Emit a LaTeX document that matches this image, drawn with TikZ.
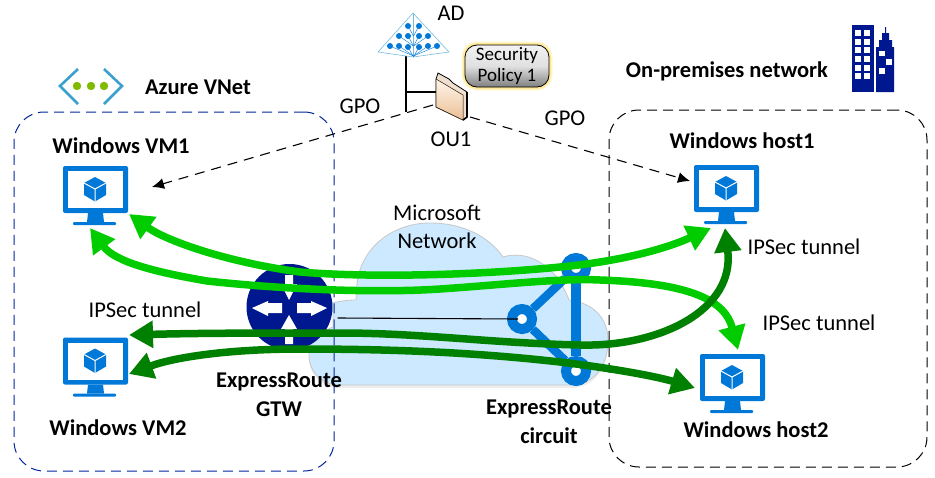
\documentclass[tikz,border=0pt]{standalone}
\usepackage{fontspec}
\setmainfont{Carlito}
\usetikzlibrary{positioning,arrows.meta,calc}
\definecolor{azblue}{RGB}{0,120,215}
\definecolor{navyicon}{RGB}{0,24,143}
\definecolor{cloudblue}{RGB}{204,233,255}
\definecolor{lightgreen}{RGB}{0,204,0}
\definecolor{darkgreen}{RGB}{0,128,0}
\definecolor{vnetblue}{RGB}{59,160,205}
\definecolor{vnetdot}{RGB}{127,186,0}
\tikzset{
    txt/.style={font=\fontsize{22.5}{27.5}\selectfont, align=center, inner sep=0pt},
    txtb/.style={font=\fontsize{22.5}{28.5}\selectfont\bfseries, align=center, inner sep=0pt},
    gpoline/.style={dashed, dash pattern=on 10pt off 7pt, line width=1.1pt, -{Latex[length=12pt,width=11pt]}},
    tunnel/.style={line width=7.5pt, {Triangle[length=24pt,width=26pt]}-{Triangle[length=24pt,width=26pt]}},
    anchorbox/.style={minimum width=65pt, minimum height=59pt, inner sep=0pt},
    hubring/.style={circle, draw=azblue, fill=white, line width=10pt, minimum size=20pt, inner sep=0pt},
    pics/vmicon/.style={code={
        \fill[azblue, rounded corners=2pt] (0,0) rectangle (65,47);
        \fill[white] (5,5) rectangle (60,42);
        \fill[azblue] (25,47) -- (40,47) -- (41,56) -- (24,56) -- cycle;
        \fill[azblue, rounded corners=1pt] (10,56) rectangle (53,59);
        \fill[azblue] (32,11) -- (43,17) -- (43,29) -- (32,35.5) -- (21,29) -- (21,17) -- cycle;
        \draw[white, line width=1pt] (21,17) -- (32,23) -- (43,17) (32,23) -- (32,35.5);
    }}
}
\begin{document}
\begin{tikzpicture}[x=1pt, y=-1pt, >=latex]
    \useasboundingbox (0,0) rectangle (935,477);

    % Cloud
    \def\cloudpath{(340,385) .. controls (322,385) and (309,372) .. (309,355)
        .. controls (309,342) and (318,333) .. (333,327) -- (333,303)
        .. controls (340,301) and (348,300) .. (356,300) -- (357,283)
        .. controls (362,245) and (395,223) .. (430,223)
        .. controls (465,223) and (490,238) .. (503,257)
        .. controls (525,250) and (555,262) .. (569,300)
        .. controls (595,303) and (608,320) .. (608,340)
        .. controls (608,365) and (595,385) .. (570,385) -- cycle}
    \fill[black, opacity=0.07, yshift=-3pt] \cloudpath;
    \filldraw[fill=cloudblue, draw=black!22, line width=0.8pt] \cloudpath;

    % VNet and on-premises boxes
    \node[draw=navyicon!85!azblue, dashed, dash pattern=on 10pt off 6pt, line width=1pt, rounded corners=30pt, minimum width=320pt, minimum height=359pt, inner sep=0pt] (vnetbox) at (174,291.5) {};
    \node[draw=black, dashed, dash pattern=on 10pt off 6pt, line width=1pt, rounded corners=30pt, minimum width=318pt, minimum height=357pt, inner sep=0pt] (onpremboxx) at (768,288.5) {};

    % VNet icon
    \draw[vnetblue, line width=2.6pt] (78,69) -- (60,86) -- (78,104);
    \draw[vnetblue, line width=2.6pt] (104,69) -- (122,86) -- (104,104);
    \fill[vnetdot] (77,86) circle (4.2) (91,86) circle (4.2) (104,86) circle (4.2);

    % Buildings
    \fill[navyicon] (852,25) rectangle (874,92);
    \fill[navyicon] (876,92) -- (876,47) -- (879,47) -- (879,40) -- (882,40) -- (882,33) -- (885,33) -- (885,27) -- (886,27) -- (886,33) -- (889,33) -- (889,40) -- (892,40) -- (892,47) -- (894,47) -- (894,92) -- cycle;
    \foreach \wy in {30,39,47,56,65,73} {
        \fill[white] (855,\wy) rectangle (861,\wy+6);
        \fill[white] (864,\wy) rectangle (870,\wy+6);
    }
    \fill[white] (879,51) rectangle (885,56);
    \fill[white] (886,59) rectangle (892,65);
    \fill[white] (879,68) rectangle (885,74);

    % AD
    \draw[black, line width=1.1pt] (406,53) -- (406,112);
    \draw[black, line width=1.1pt] (406,92) -- (437,92);
    \filldraw[fill=white, draw=vnetblue!70, line width=0.6pt] (413,13) -- (449,52) -- (413,57) -- (378,52) -- cycle;
    \draw[vnetblue!70, line width=0.5pt] (413,13) -- (413,57);
    \foreach \dotx/\doty in {408/26,419/26,399/36,408/36,419/36,428/36,390/46,399/46,408/47,419/47,428/46,437/46} {
        \fill[azblue] (\dotx,\doty) circle (3);
        \draw[azblue, line width=0.4pt] (\dotx,\doty) -- (413.5,\doty+10);
    }

    % Security policy
    \draw[orange!40!yellow, opacity=0.18, line width=7pt, rounded corners=12pt] (465,45) rectangle (549,87);
    \draw[orange!40!yellow, opacity=0.3, line width=4pt, rounded corners=12pt] (465,45) rectangle (549,87);
    \node[draw=black, line width=0.8pt, rounded corners=12pt, minimum width=84pt, minimum height=42pt, top color=white!95!black, bottom color=black!50, middle color=black!12, inner sep=0pt, align=center, font=\fontsize{19}{21.5}\selectfont] (policy) at (507,66) {Security\\Policy 1};

    % Folder
    \coordinate (gpoA) at (433,105);
    \coordinate (gpoB) at (470,117);
    \coordinate (vmaim) at (152,187);
    \coordinate (hostaim) at (690,181);
    \filldraw[fill=brown!25!white, draw=black, line width=0.8pt] (438,73) -- (449,79) -- (453,83) -- (467,92) -- (467,117) -- (463,120) -- (436,107) -- (436,79) -- cycle;
    \filldraw[top color=orange!8!white, bottom color=orange!35!brown!50!white, draw=black!70!brown, line width=0.5pt] (436,79) -- (463,95) -- (463,120) -- (436,107) -- cycle;
    \draw[black, line width=1.6pt] (463,120) -- (467,117) -- (467,92);

    % GPO arrows
    \draw[gpoline] (gpoA) -- (vmaim);
    \draw[gpoline] (gpoB) -- (hostaim);

    % Monitors
    \node[anchorbox] (vm1) at (95.5,195.5) {};
    \pic at (63,166) {vmicon};
    \node[anchorbox] (vm2) at (95.5,367) {};
    \pic at (63,337.5) {vmicon};
    \node[anchorbox] (host1) at (726.5,194.5) {};
    \pic at (694,165) {vmicon};
    \node[anchorbox] (host2) at (732.5,383.5) {};
    \pic at (700,354) {vmicon};

    % ExpressRoute gateway
    \node[circle, fill=navyicon, minimum size=86pt, inner sep=0pt] (gtw) at (289.5,307) {};
    \fill[white] (285,275) -- (293,275) -- (293,284) -- (297,284) -- (289,300) -- (281,284) -- (285,284) -- cycle;
    \fill[white] (289,315) -- (297,329) -- (293,329) -- (293,344) -- (285,344) -- (285,329) -- (281,329) -- cycle;
    \fill[white] (252,308) -- (268,301) -- (268,303) -- (282,303) -- (282,313) -- (268,313) -- (268,316) -- cycle;
    \fill[white] (327,308) -- (311,301) -- (311,303) -- (297,303) -- (297,313) -- (311,313) -- (311,316) -- cycle;

    % ExpressRoute circuit
    \node[hubring] (circtop) at (576,268) {};
    \node[hubring] (circleft) at (522,319) {};
    \node[hubring] (circbot) at (576,371) {};
    \draw[azblue, line width=10pt] (circtop) -- (circbot);
    \draw[azblue, line width=8.5pt] (circleft) -- (circtop);
    \draw[azblue, line width=8.5pt] (circleft) -- (circbot);
    \draw[black, line width=1.1pt] ($(gtw.east)+(5,11)$) -- ($(circleft.center)+(-4,0)$);

    % Tunnels
    \coordinate (vmAend) at (129,214);
    \coordinate (vmBend) at (90,228);
    \coordinate (vmCend) at (129,335);
    \coordinate (vmDend) at (129,374);
    \coordinate (hostAend) at (711,228);
    \coordinate (hostBend) at (738,350);
    \coordinate (hostCend) at (725,228);
    \coordinate (hostDend) at (695,388);
    \draw[tunnel, lightgreen] (vmAend) .. controls (165,240) and (225,262) .. (300,272) .. controls (370,278) and (480,275) .. (560,267) .. controls (625,261) and (670,247) .. (hostAend);
    \draw[tunnel, lightgreen] (vmBend) .. controls (115,262) and (155,272) .. (207,281) .. controls (290,290) and (380,293) .. (440,289) .. controls (500,285) and (560,278) .. (600,280) .. controls (690,283) and (725,300) .. (hostBend);
    \draw[tunnel, darkgreen] (vmCend) .. controls (200,333) and (270,333) .. (340,333) .. controls (420,333) and (490,343) .. (580,345) .. controls (660,347) and (735,310) .. (hostCend);
    \draw[tunnel, darkgreen] (vmDend) .. controls (175,357) and (230,349) .. (300,349) .. controls (400,349) and (480,353) .. (560,362) .. controls (610,368) and (655,376) .. (hostDend);

    % Labels
    \node[txtb] (azlabel) at (198,87) {Azure VNet};
    \node[txtb] (onlabel) at (727,71) {On-premises network};
    \node[txtb] (vm1label) at (121,146) {Windows VM1};
    \node[txtb] (vm2label) at (118,428) {Windows VM2};
    \node[txtb] (host1label) at (742,141) {Windows host1};
    \node[txtb] (host2label) at (756,430) {Windows host2};
    \node[txtb] (gtwlabel) at (279,395) {ExpressRoute\\GTW};
    \node[txtb] (circlabel) at (549,422) {ExpressRoute\\circuit};
    \node[txt] (adlabel) at (451,13) {AD};
    \node[txt] (oulabel) at (451,139) {OU1};
    \node[txt] (gpoleft) at (360,106) {GPO};
    \node[txt] (gporight) at (565,118) {GPO};
    \node[txt] (msnet) at (437,227) {Microsoft\\Network};
    \node[txt] (ipsA) at (804,247) {IPSec tunnel};
    \node[txt] (ipsB) at (819,323) {IPSec tunnel};
    \node[txt] (ipsC) at (145,310) {IPSec tunnel};
\end{tikzpicture}
\end{document}
